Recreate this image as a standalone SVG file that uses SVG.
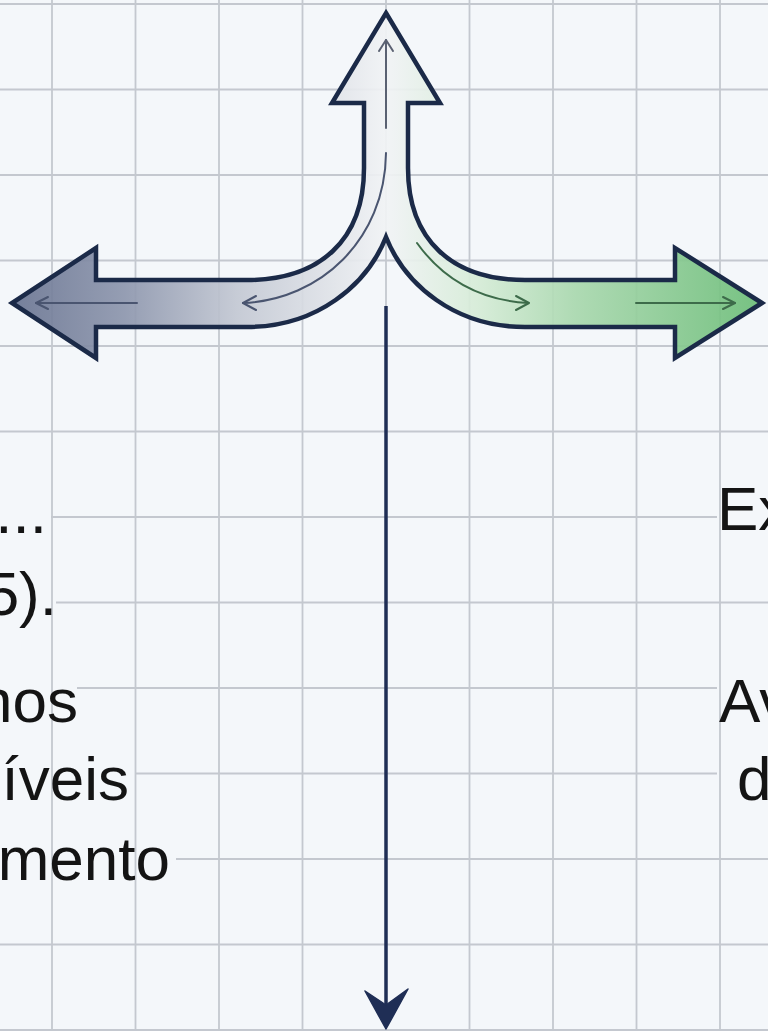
<svg xmlns="http://www.w3.org/2000/svg" width="768" height="1031" viewBox="0 0 768 1031">
<style>
.g{stroke:#c4c8cf;stroke-width:1.8;fill:none}
.cover{fill:#f4f7fa}
.t{font-family:"Liberation Sans",Arial,sans-serif;font-size:62px;fill:#141414}
.guide{fill:none;stroke-width:2;stroke-linecap:round;stroke-linejoin:round}
</style>
<defs>
<linearGradient id="fillGrad" gradientUnits="userSpaceOnUse" x1="12" y1="0" x2="762" y2="0">
<stop offset="0" stop-color="#6a7592"/>
<stop offset="0.15" stop-color="#8d96ad"/>
<stop offset="0.3" stop-color="#c3c8d3"/>
<stop offset="0.5" stop-color="#f1f3f5"/>
<stop offset="0.62" stop-color="#d6ecd7"/>
<stop offset="0.75" stop-color="#a9d8ae"/>
<stop offset="1" stop-color="#6cbd78"/>
</linearGradient>
</defs>
<rect width="768" height="1031" fill="#f4f7fa"/>
<g id="grid">
<g id="grid-h">
<line class="g" x1="0" y1="4" x2="768" y2="4"/>
<line class="g" x1="0" y1="89.5" x2="768" y2="89.5"/>
<line class="g" x1="0" y1="175" x2="768" y2="175"/>
<line class="g" x1="0" y1="260.5" x2="768" y2="260.5"/>
<line class="g" x1="0" y1="346" x2="768" y2="346"/>
<line class="g" x1="0" y1="431.5" x2="768" y2="431.5"/>
<line class="g" x1="0" y1="517" x2="768" y2="517"/>
<line class="g" x1="0" y1="602.5" x2="768" y2="602.5"/>
<line class="g" x1="0" y1="688" x2="768" y2="688"/>
<line class="g" x1="0" y1="773.5" x2="768" y2="773.5"/>
<line class="g" x1="0" y1="859" x2="768" y2="859"/>
<line class="g" x1="0" y1="944.5" x2="768" y2="944.5"/>
<line class="g" x1="0" y1="1030" x2="768" y2="1030"/>
</g>
<g id="text-backgrounds">
<rect class="cover" x="0" y="475" width="51" height="78"/>
<rect class="cover" x="0" y="557" width="56" height="78"/>
<rect class="cover" x="0" y="664" width="77" height="78"/>
<rect class="cover" x="0" y="742" width="135" height="78"/>
<rect class="cover" x="0" y="822" width="176" height="78"/>
<rect class="cover" x="717" y="472" width="51" height="78"/>
<rect class="cover" x="717" y="664" width="51" height="78"/>
<rect class="cover" x="717" y="742" width="51" height="78"/>
</g>
<g id="grid-v">
<line class="g" x1="52" y1="0" x2="52" y2="1031"/>
<line class="g" x1="135.5" y1="0" x2="135.5" y2="1031"/>
<line class="g" x1="219" y1="0" x2="219" y2="1031"/>
<line class="g" x1="302.5" y1="0" x2="302.5" y2="1031"/>
<line class="g" x1="386" y1="0" x2="386" y2="1031"/>
<line class="g" x1="469.5" y1="0" x2="469.5" y2="1031"/>
<line class="g" x1="553" y1="0" x2="553" y2="1031"/>
<line class="g" x1="636.5" y1="0" x2="636.5" y2="1031"/>
<line class="g" x1="720" y1="0" x2="720" y2="1031"/>
</g>
</g>
<g id="connectors">
<line x1="386" y1="306" x2="386" y2="1005" stroke="#1f2e55" stroke-width="3.5"/>
<path d="M386,1029 L365,991 L386,1005 L408,989 Z" fill="#1f2e55" stroke="#1f2e55" stroke-width="1.5" stroke-linejoin="round"/>
</g>
<g id="split-arrow">
<path d="M386,13 L440,103 L408,103 L408,168 C408,240 452,280 525,280 L675,280 L675,248 L762,303 L675,358 L675,327 L525,327 C455,327 405,285 386,237 C367,285 317,327 247,327 L96,327 L96,358 L12,303 L96,248 L96,280 L247,280 C320,280 364,240 364,168 L364,103 L332,103 Z" fill="url(#fillGrad)" fill-opacity="0.92" stroke="#1b2a48" stroke-width="4.5" stroke-linejoin="miter"/>
<g id="guide-up" stroke="#5a6172">
<path class="guide" d="M386,128 L386,40"/>
<path class="guide" d="M379,51 L386,40 L393,51"/>
</g>
<g id="guide-left" stroke="#4a5570">
<path class="guide" d="M386,153 C385,240 320,300 243,303"/>
<path class="guide" d="M256,296 L243,303 L256,310"/>
<path class="guide" d="M137,303 L36,303"/>
<path class="guide" d="M48,297 L36,303 L48,309"/>
</g>
<g id="guide-right" stroke="#3d6b4a">
<path class="guide" d="M417,243 C440,275 475,300 528,303"/>
<path class="guide" d="M516,296 L529,303 L516,310"/>
<path class="guide" d="M636,303 L735,303"/>
<path class="guide" d="M723,297 L735,303 L723,309"/>
</g>
</g>
<g id="labels-left">
<text class="t" x="47" y="533" text-anchor="end">...</text>
<text class="t" x="57" y="615" text-anchor="end">5).</text>
<text class="t" x="78" y="722" text-anchor="end">nos</text>
<text class="t" x="129" y="800" text-anchor="end">íveis</text>
<text class="t" x="170" y="880" text-anchor="end">mento</text>
</g>
<g id="labels-right">
<text class="t" x="717" y="530">Ex</text>
<text class="t" x="719" y="722">Av</text>
<text class="t" x="737" y="800">d</text>
</g>
</svg>
